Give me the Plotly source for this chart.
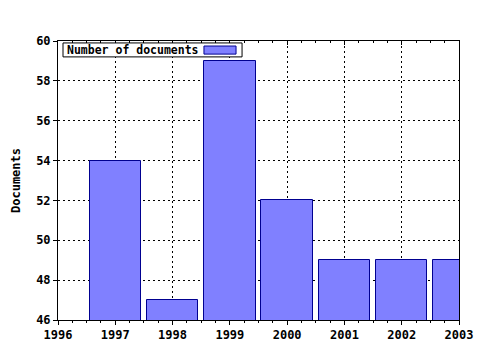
import plotly.graph_objects as go

years = [1997, 1998, 1999, 2000, 2001, 2002, 2003]
documents = [54, 47, 59, 52, 49, 49, 49]
series_name = "Number of documents"
y_title = "Documents"
x_ticks = [1996, 1997, 1998, 1999, 2000, 2001, 2002, 2003]
y_ticks = [46, 48, 50, 52, 54, 56, 58, 60]

FONT = "DejaVu Sans Mono"
fill = "#8080FF"
edge = "#000090"

fig = go.Figure()
fig.add_trace(go.Bar(x=years, y=documents, name=series_name, width=0.9,
                     marker=dict(color=fill, line=dict(color=edge, width=1)),
                     showlegend=False))

grid = dict(showgrid=True, gridcolor="black", gridwidth=1, griddash="2px,3px")
fig.update_layout(
    width=480, height=350,
    margin=dict(l=58, r=21, t=41, b=30, autoexpand=False),
    paper_bgcolor="white", plot_bgcolor="white",
    font=dict(family=FONT, size=12, color="black"),
    bargap=0,
    xaxis=dict(range=[1996, 2003], tickvals=x_ticks, ticktext=[f"<b>{v}</b>" for v in x_ticks],
               ticks="outside", ticklen=4, tickcolor="black", automargin=False,
               minor=dict(dtick=0.25, ticks="outside", ticklen=2, tickcolor="black", showgrid=False),
               showline=True, linecolor="black", linewidth=1, mirror=True,
               zeroline=False, tickfont=dict(size=12), **grid),
    xaxis2=dict(range=[1996, 2003], overlaying="x", side="top", anchor="y",
                tickvals=x_ticks, showticklabels=False, ticks="inside", ticklen=4,
                tickcolor="black", automargin=False,
                minor=dict(dtick=0.25, ticks="inside", ticklen=2, tickcolor="black"),
                showgrid=False, zeroline=False, showline=False),
    yaxis=dict(range=[46, 60], tickvals=y_ticks, ticktext=[f"<b>{v}</b>" for v in y_ticks],
               ticks="outside", ticklen=4, tickcolor="black", automargin=False,
               showline=True, linecolor="black", linewidth=1, mirror=True,
               zeroline=False, tickfont=dict(size=12),
               title=dict(text=f"<b>{y_title}</b>", font=dict(size=12), standoff=12),
               **grid),
)
fig.add_trace(go.Scatter(x=[1996], y=[46], xaxis="x2", mode="markers",
                         marker=dict(opacity=0), showlegend=False, hoverinfo="skip"))

# legend box (swatch on the right, as in the reference)
fig.add_shape(type="rect", xref="paper", yref="paper", x0=0.0125, x1=0.459, y0=0.943, y1=0.993,
              line=dict(color="black", width=1), fillcolor="white")
fig.add_shape(type="rect", xref="paper", yref="paper", x0=0.364, x1=0.444, y0=0.953, y1=0.982,
              line=dict(color=edge, width=1), fillcolor=fill)
fig.add_annotation(xref="paper", yref="paper", x=0.0175, y=0.968, xanchor="left", yanchor="middle",
                   text=f"<b>{series_name}</b>", showarrow=False, font=dict(size=11.5))

fig.write_html("out.html")
